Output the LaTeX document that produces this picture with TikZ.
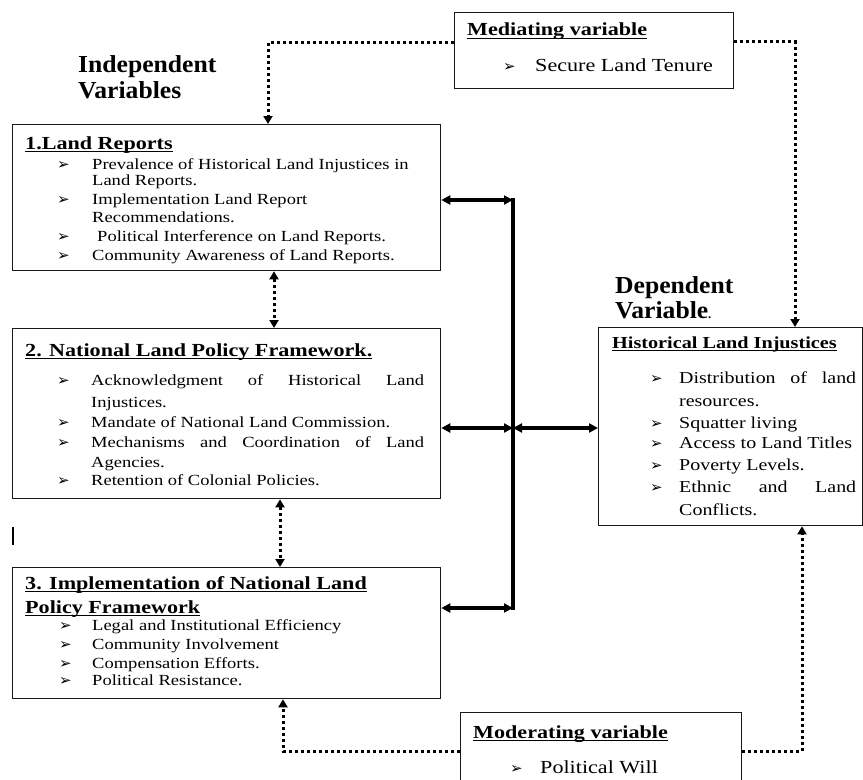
\documentclass[tikz,border=0pt]{standalone}
\usepackage{fontspec}
\setmainfont{Liberation Serif}[FakeStretch=1.2]
\newfontfamily\headfont{Liberation Serif}[FakeStretch=1.05]
\newfontfamily\bulfont{DejaVu Sans}
\usetikzlibrary{arrows.meta}
\newsavebox\ulbox
\newcommand\ul[1]{\sbox\ulbox{#1}\rlap{\rule[-2.8bp]{\wd\ulbox}{1.2bp}}\usebox\ulbox}
\newcommand\bul{{\bulfont\fontsize{15}{15}\selectfont ➢}}
\newcommand\bitem[2][35bp]{\makebox[#1][l]{\bul}#2}
\tikzset{
  boxst/.style={draw=black!90, line width=1.3bp, inner sep=0pt, anchor=north west},
  bodyA/.style={inner sep=0pt, anchor=base west, font=\fontsize{15.5}{18}\selectfont},
  bodyD/.style={inner sep=0pt, anchor=base west, font=\fontsize{16.7}{20}\selectfont},
  bodyM/.style={inner sep=0pt, anchor=base west, font=\fontsize{18.5}{22}\selectfont},
  titA/.style={inner sep=0pt, anchor=base west, font=\fontsize{18.5}{22}\selectfont\bfseries},
  titD/.style={inner sep=0pt, anchor=base west, font=\fontsize{16.9}{20}\selectfont\bfseries},
  head/.style={inner sep=0pt, anchor=base west, font=\headfont\bfseries\fontsize{24.5}{28}\selectfont},
  solidc/.style={line width=3.2bp, draw=black, >={Triangle[length=9bp,width=9bp]}},
  dotc/.style={line width=3bp, draw=black, dash pattern=on 3bp off 3bp, >={Triangle[length=8bp,width=9bp]}}
}
\begin{document}
\begin{tikzpicture}[x=1bp,y=-1bp]
\useasboundingbox (0,0) rectangle (863,780);
\clip (0,0) rectangle (863,780);
\fill[white] (0,0) rectangle (863,780);

% boxes
\node[boxst, minimum width=428bp, minimum height=146bp] (b1) at (12,124) {};
\node[boxst, minimum width=428bp, minimum height=170bp] (b2) at (12,328) {};
\node[boxst, minimum width=428bp, minimum height=131bp] (b3) at (12,567) {};
\node[boxst, minimum width=264bp, minimum height=198bp] (dep) at (598,327) {};
\node[boxst, minimum width=279bp, minimum height=76bp] (med) at (454,12) {};
\node[boxst, minimum width=281bp, minimum height=80bp] (mod) at (460,712) {};

% headings
\node[head] (hInd1) at (78,73) {Independent};
\node[head] (hInd2) at (78,98) {Variables};
\node[head] (hDep1) at (615,293) {Dependent};
\node[head] (hDep2) at (615,318) {Variable{\fontsize{12}{12}\selectfont.}};

% box 1
\node[titA] (t1) at (25,149) {\ul{1.Land Reports}};
\node[bodyA] (b1a) at (57,169) {\bitem{Prevalence of Historical Land Injustices in}};
\node[bodyA] (b1b) at (92,185) {Land Reports.};
\node[bodyA] (b1c) at (57,204) {\bitem{Implementation Land Report}};
\node[bodyA] (b1d) at (92,222) {Recommendations.};
\node[bodyA] (b1e) at (57,241) {\bitem{\hspace{5bp}Political Interference on Land Reports.}};
\node[bodyA] (b1f) at (57,260) {\bitem{Community Awareness of Land Reports.}};

% box 2
\node[titA] (t2) at (25,356) {\ul{2. National Land Policy Framework.}};
\node[bodyA] (b2a) at (57,385) {\bitem[34bp]{\makebox[333bp][s]{Acknowledgment of Historical Land}}};
\node[bodyA] (b2b) at (91,407) {Injustices.};
\node[bodyA] (b2c) at (57,427) {\bitem[34bp]{Mandate of National Land Commission.}};
\node[bodyA] (b2d) at (57,447) {\bitem[34bp]{\makebox[333bp][s]{Mechanisms and Coordination of Land}}};
\node[bodyA] (b2e) at (91,467) {Agencies.};
\node[bodyA] (b2f) at (57,485) {\bitem[34bp]{Retention of Colonial Policies.}};

% box 3
\node[titA] (t3a) at (25,589) {\ul{3. Implementation of National Land}};
\node[titA] (t3b) at (25,613) {\ul{Policy Framework}};
\node[bodyA] (b3a) at (59,630) {\bitem[33bp]{Legal and Institutional Efficiency}};
\node[bodyA] (b3b) at (59,649) {\bitem[33bp]{Community Involvement}};
\node[bodyA] (b3c) at (59,668) {\bitem[33bp]{Compensation Efforts.}};
\node[bodyA] (b3d) at (59,685) {\bitem[33bp]{Political Resistance.}};

% dependent box
\node[titD] (td) at (612,348) {\ul{Historical Land Injustices}};
\node[bodyD] (da) at (650,383.5) {\bitem[29bp]{\makebox[177bp][s]{Distribution of land}}};
\node[bodyD] (db) at (679,406) {resources.};
\node[bodyD] (dc) at (650,428) {\bitem[29bp]{Squatter living}};
\node[bodyD] (dd) at (650,448.5) {\bitem[29bp]{Access to Land Titles}};
\node[bodyD] (de) at (650,470.5) {\bitem[29bp]{Poverty Levels.}};
\node[bodyD] (df) at (650,492.5) {\bitem[29bp]{\makebox[177bp][s]{Ethnic and Land}}};
\node[bodyD] (dg) at (679,515.5) {Conflicts.};

% mediating / moderating
\node[titA] (tm) at (467,36) {\ul{Mediating variable}};
\node[bodyM] (mi) at (503,72) {\bitem[32bp]{Secure Land Tenure}};
\node[titA] (to) at (473,738) {\ul{Moderating variable}};
\node[bodyM] (oi) at (510,773) {\bitem[30bp]{Political Will}};

% stray mark
\draw[line width=1.2bp] (13,527) -- (13,545);

% solid connectors
\coordinate (jt) at (513,200);
\coordinate (jm) at (513,428);
\coordinate (jb) at (513,608);
\draw[solidc, line cap=rect] (jt) -- (jb);
\draw[solidc, <->] (b1.east |- jt) -- (jt);
\draw[solidc, <->] (b2.east |- jm) -- (jm);
\draw[solidc, <->] (jm) -- (dep.west |- jm);
\draw[solidc, <->] (b3.east |- jb) -- (jb);

% dotted connectors
\coordinate (m1) at (268,43);
\coordinate (m2) at (795,42);
\coordinate (d12) at (274,300);
\coordinate (d23) at (280,530);
\coordinate (o1) at (283,751);
\coordinate (o2) at (802,751);
\draw[dotc, ->] (med.west |- m1) -- (m1) -- (m1 |- b1.north);
\draw[dotc, ->] (med.east |- m2) -- (m2) -- (m2 |- dep.north);
\draw[dotc, <->] (b1.south -| d12) -- (b2.north -| d12);
\draw[dotc, <->] (b2.south -| d23) -- (b3.north -| d23);
\draw[dotc, ->] (mod.west |- o1) -- (o1) -- (o1 |- b3.south);
\draw[dotc, ->] (mod.east |- o2) -- (o2) -- (o2 |- dep.south);
\end{tikzpicture}
\end{document}
